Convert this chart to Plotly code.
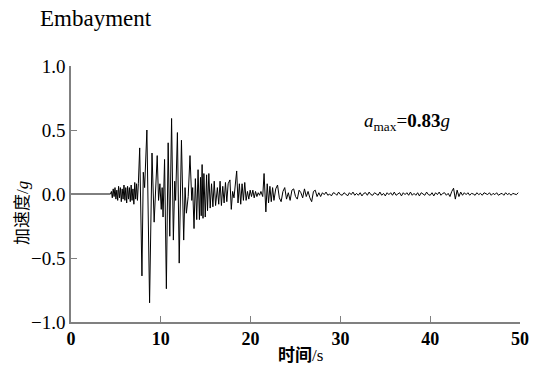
import numpy as np
import plotly.graph_objects as go

# ---- data ----
pre_t = [0.0, 4.4]
pre_a = [0.0, 0.0]

noise_t = [4.5, 4.6, 4.7, 4.8, 4.9, 5.0, 5.1, 5.2, 5.3, 5.4, 5.5, 5.6, 5.7, 5.8, 5.9,
           6.0, 6.1, 6.2, 6.3, 6.4, 6.5, 6.6, 6.7, 6.8, 6.9, 7.0, 7.1, 7.2, 7.3, 7.4]
noise_a = [0.02, -0.03, 0.04, -0.02, 0.05, -0.04, 0.03, -0.05, 0.06, -0.03, 0.05, -0.06, 0.04, -0.04, 0.07,
           -0.05, 0.05, -0.07, 0.06, -0.04, 0.05, -0.06, 0.07, -0.05, 0.04, -0.08, 0.09, -0.04, 0.08, -0.05]

strong_t = [7.5, 7.65, 7.9, 8.05, 8.2, 8.45, 8.75, 9.02, 9.26, 9.45, 9.6, 9.75, 9.9, 10.05, 10.15,
            10.25, 10.42, 10.62, 10.82, 11.0, 11.2, 11.4, 11.55, 11.65, 11.85, 12.05, 12.3, 12.55,
            12.7, 12.85, 13.05, 13.25, 13.45, 13.55, 13.7, 13.85, 14.0, 14.15, 14.3, 14.42, 14.5, 14.6, 14.7, 14.8]
strong_a = [0.08, 0.36, -0.64, 0.17, 0.05, 0.50, -0.85, 0.32, -0.22, 0.05, 0.30, -0.05, 0.08, -0.12, 0.05,
            -0.18, 0.27, -0.74, 0.40, -0.33, 0.59, -0.36, 0.10, -0.05, 0.48, -0.54, 0.42, -0.36,
            0.05, -0.15, -0.02, 0.30, -0.05, 0.05, -0.27, 0.12, -0.20, 0.19, -0.20, 0.13, -0.17, 0.23, -0.19, 0.16]

coda_t = [14.95, 15.1, 15.2, 15.35, 15.5, 15.65, 15.8, 15.95, 16.1, 16.3, 16.45, 16.6, 16.75, 16.9,
          17.05, 17.2, 17.35, 17.5, 17.7, 17.85, 18.0, 18.15, 18.45, 18.6, 18.75, 18.9, 19.05, 19.2,
          19.35, 19.5, 19.65, 19.8, 19.95, 20.1, 20.25, 20.4, 20.55, 20.7, 20.85, 21.0, 21.15, 21.35,
          21.5, 21.7, 21.85, 22.0, 22.15, 22.3, 22.45]
coda_a = [-0.18, 0.15, -0.13, 0.16, -0.11, 0.08, -0.10, 0.10, -0.09, 0.05, -0.08, 0.10, -0.09, 0.06,
          -0.07, 0.09, -0.06, 0.08, 0.11, -0.12, 0.02, -0.03, 0.18, -0.07, 0.08, -0.08, 0.08, -0.05,
          0.09, -0.05, 0.02, -0.04, 0.03, -0.02, 0.03, -0.03, 0.02, -0.02, 0.01, -0.01, 0.02, -0.02,
          0.16, -0.14, 0.08, -0.07, 0.06, -0.06, 0.05]

tail_start = 22.6
tail_step = 0.2
tail_a = [
    # 22.6 - 28 s
    -0.05, 0.04, 0.07, -0.03, -0.06, 0.02, 0.05, -0.04, 0.01, -0.05, 0.03, 0.04, -0.02, -0.04,
    0.03, 0.01, -0.03, 0.04, -0.02, 0.02, -0.03, -0.06, 0.02, 0.03, -0.02, 0.01, -0.02,
    # 28 - 42.5 s
    0.01, -0.005, 0.015, -0.01, 0.0, -0.015, 0.01, 0.005, -0.01, 0.015, -0.005, -0.01, 0.01, 0.0,
    -0.015, 0.01, -0.005, 0.015, -0.01, 0.005, -0.01, 0.01, -0.015, 0.005, 0.01, -0.01, 0.015,
    -0.005, -0.01, 0.01, 0.0, -0.01, 0.015, -0.01, 0.005, -0.015, 0.01, -0.005, 0.01, -0.01,
    0.015, -0.01, 0.0, 0.01, -0.015, 0.01, -0.005, 0.01, -0.01, 0.015, -0.01, 0.005, -0.01, 0.01,
    -0.015, 0.01, 0.0, -0.01, 0.015, -0.005, -0.01, 0.01, -0.015, 0.01, -0.005, 0.015, -0.01,
    0.005, 0.01, -0.01, 0.005, -0.02, 0.02,
    # spike near 42.6 s
    0.045, -0.04, 0.03, -0.02, 0.015, -0.01, 0.01,
    # 44 - 50 s
    -0.005, 0.01, -0.01, 0.005, 0.0, -0.01, 0.01, -0.005, 0.005, -0.01, 0.01, 0.0, -0.005, 0.01,
    -0.01, 0.005, -0.005, 0.01, -0.01, 0.0, 0.005, -0.01, 0.01, -0.005, 0.005, -0.01, 0.005, 0.0,
    -0.005, 0.01,
]
tail_t = list(np.round(tail_start + tail_step * np.arange(len(tail_a)), 3))

x_ticks = [0, 10, 20, 30, 40, 50]
y_ticks = [-1.0, -0.5, 0.0, 0.5, 1.0]
y_tick_text = ["\u22121.0", "\u22120.5", "0.0", "0.5", "1.0"]

time_s = pre_t + noise_t + strong_t + coda_t + tail_t
accel_g = pre_a + noise_a + strong_a + coda_a + tail_a

SERIF = "Liberation Serif"
CJK = "Noto Sans CJK SC"

L, R, T, B = 71, 16, 66, 49
PW = 536 - L - R
PH = 371 - T - B

fig = go.Figure()
fig.add_trace(go.Scatter(x=time_s, y=accel_g, mode="lines",
                         line=dict(color="black", width=1), showlegend=False,
                         hoverinfo="skip", cliponaxis=True))

fig.update_layout(
    width=536, height=371, autosize=False,
    margin=dict(l=L, r=R, t=T, b=B, autoexpand=False),
    paper_bgcolor="white", plot_bgcolor="white",
    font=dict(family=SERIF, color="black"),
    title=dict(text="Embayment", x=40 / 536, xanchor="left", xref="container",
               y=1 - 18 / 371, yanchor="middle", yref="container",
               font=dict(family=SERIF, size=23, color="black")),
    xaxis=dict(range=[0, 50], tickvals=x_ticks, ticktext=[f"<b>{v}</b>" for v in x_ticks],
               showgrid=False, zeroline=False, showline=True, linecolor="#808080",
               linewidth=1.5, ticks="inside", ticklen=6, tickcolor="#808080",
               tickfont=dict(family=SERIF, size=18, color="black"),
               automargin=False, fixedrange=True),
    yaxis=dict(range=[-1.0, 1.0], tickvals=y_ticks, ticktext=y_tick_text,
               showgrid=False, zeroline=False, showline=True, linecolor="#808080",
               linewidth=1.5, ticks="inside", ticklen=6, tickcolor="#808080",
               tickfont=dict(family=SERIF, size=19, color="black"),
               automargin=False, fixedrange=True),
)

fig.add_annotation(
    text='<b>时间</b>/s',
    xref="paper", yref="paper", x=(300 - L) / PW, y=-33 / PH, yanchor="middle",
    showarrow=False, font=dict(family=f"{SERIF}, {CJK}", size=17, color="black"))

fig.add_annotation(
    text='加速度/<i>g</i>',
    xref="paper", yref="paper", x=(22 - L) / PW, y=(322 - 213) / PH,
    xanchor="center", yanchor="middle", textangle=-90,
    showarrow=False, font=dict(family=f"{SERIF}, {CJK}", size=17, color="black"))

fig.add_annotation(
    text='<i>a</i><sub>max</sub>=<b>0.83</b><i>g</i>',
    xref="x", yref="y", x=37.4, y=0.56, xanchor="center", yanchor="middle",
    showarrow=False, font=dict(family=SERIF, size=19, color="black"))

fig.write_html("out.html")
